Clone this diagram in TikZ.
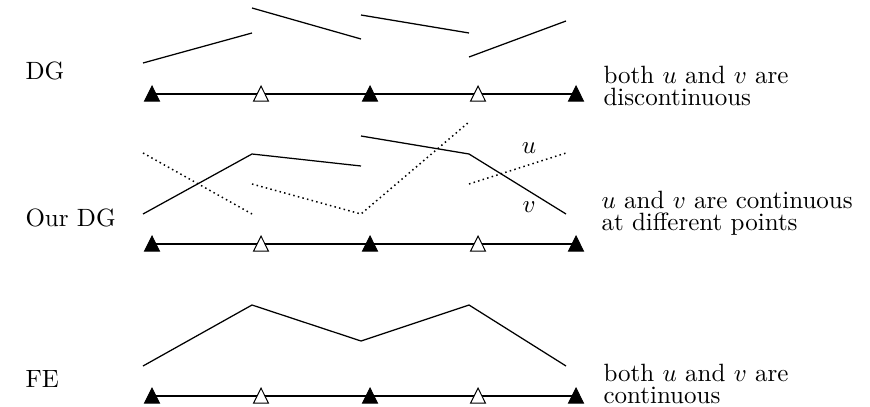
\documentclass[tikz,border=0pt]{standalone}
\usetikzlibrary{shapes.geometric}
\begin{document}
\begin{tikzpicture}[x=0.4pt,y=-0.4pt,
  curve/.style={line width=0.5pt},
  dots/.style={line width=0.6pt, dash pattern=on 0.6pt off 1.3pt},
  axisline/.style={line width=0.5pt},
  tri/.style={isosceles triangle, isosceles triangle apex angle=53, shape border rotate=90,
    minimum height=6pt, inner sep=0pt, anchor=apex, draw, line width=0.4pt, yshift=3.6pt},
  solidtri/.style={tri, fill=black},
  opentri/.style={tri, fill=white},
  lab/.style={anchor=west, inner sep=0pt, font=\fontsize{10}{8.7}\selectfont, align=left},
  varlab/.style={inner sep=0pt}
]
\useasboundingbox (0,0) rectangle (870,406);

% ---------- DG ----------
\draw[curve] (143,63) -- (252,33);
\draw[curve] (252,8) -- (361,39);
\draw[curve] (361,15) -- (469,33);
\draw[curve] (469,57) -- (566,21);
\coordinate (a1) at (152,94);
\coordinate (a2) at (261,94);
\coordinate (a3) at (370,94);
\coordinate (a4) at (478,94);
\coordinate (a5) at (576,94);
\draw[axisline] (a1) -- (a5);
\node[solidtri] (ta1) at (a1) {};
\node[opentri] (ta2) at (a2) {};
\node[solidtri] (ta3) at (a3) {};
\node[opentri] (ta4) at (a4) {};
\node[solidtri] (ta5) at (a5) {};
\node[lab] (ldg) at (25,71) {DG};
\node[lab] (rdg) at (603,86) {both $u$ and $v$ are\\discontinuous};

% ---------- Our DG ----------
\draw[curve] (143,214) -- (252,154) -- (361,166);
\draw[curve] (361,136) -- (469,154) -- (566,214);
\draw[dots] (143,153) -- (252,214);
\draw[dots] (252,184) -- (361,214) -- (469,122);
\draw[dots] (469,184) -- (566,153);
\node[varlab] (lu) at (529,148) {$u$};
\node[varlab] (lv) at (529,207) {$v$};
\coordinate (b1) at (152,244);
\coordinate (b2) at (261,244);
\coordinate (b3) at (370,244);
\coordinate (b4) at (478,244);
\coordinate (b5) at (576,244);
\draw[axisline] (b1) -- (b5);
\node[solidtri] (tb1) at (b1) {};
\node[opentri] (tb2) at (b2) {};
\node[solidtri] (tb3) at (b3) {};
\node[opentri] (tb4) at (b4) {};
\node[solidtri] (tb5) at (b5) {};
\node[lab] (lour) at (25,218) {Our DG};
\node[lab] (rour) at (601,213) {$u$ and $v$ are continuous\\at different points};

% ---------- FE ----------
\draw[curve] (143,366) -- (252,305) -- (361,341) -- (469,305) -- (566,366);
\coordinate (c1) at (152,396);
\coordinate (c2) at (261,396);
\coordinate (c3) at (370,396);
\coordinate (c4) at (478,396);
\coordinate (c5) at (576,396);
\draw[axisline] (c1) -- (c5);
\node[solidtri] (tc1) at (c1) {};
\node[opentri] (tc2) at (c2) {};
\node[solidtri] (tc3) at (c3) {};
\node[opentri] (tc4) at (c4) {};
\node[solidtri] (tc5) at (c5) {};
\node[lab] (lfe) at (25,379) {FE};
\node[lab] (rfe) at (603,384) {both $u$ and $v$ are\\continuous};
\end{tikzpicture}
\end{document}
